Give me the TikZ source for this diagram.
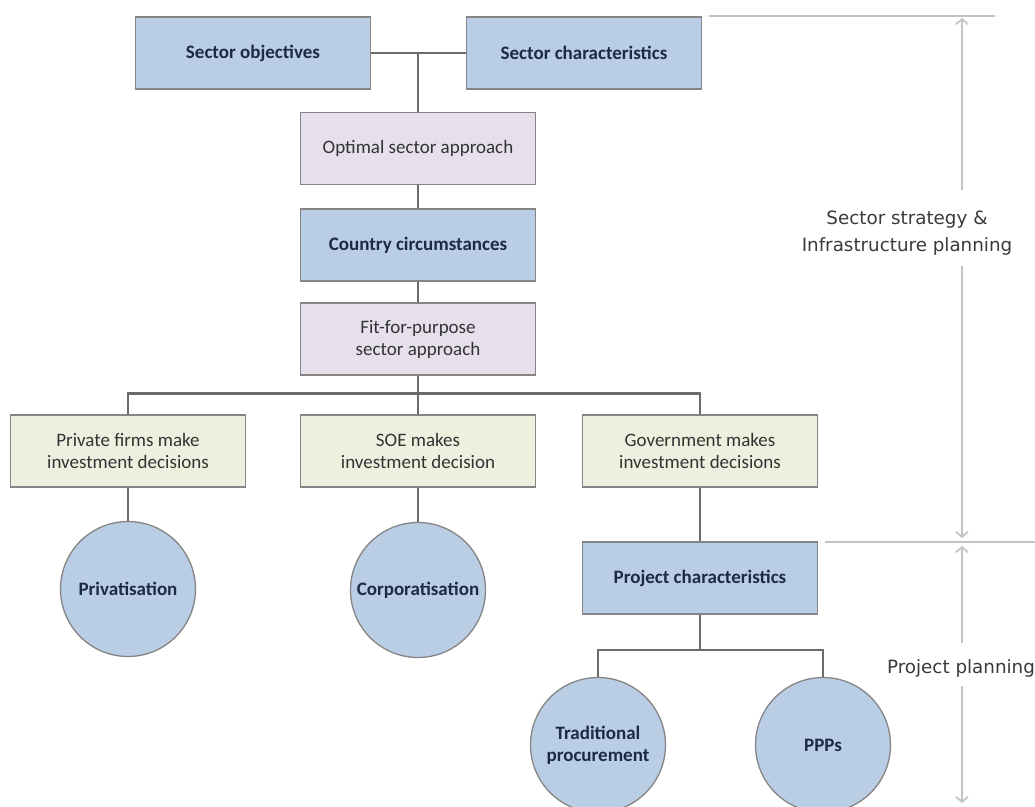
\documentclass[tikz,border=0pt]{standalone}
\usepackage{fontspec}
\setmainfont{Carlito}
\newfontfamily\annfont{DejaVu Sans}
\usetikzlibrary{arrows.meta}
\definecolor{boxblue}{HTML}{B9CDE5}
\definecolor{boxlilac}{HTML}{E5E0EC}
\definecolor{boxgreen}{HTML}{EBF1DE}
\definecolor{boxborder}{HTML}{858585}
\definecolor{navytext}{HTML}{1B2A47}
\definecolor{regtext}{HTML}{333333}
\definecolor{connline}{HTML}{6B6B6B}
\definecolor{annline}{HTML}{C4C4C4}
\definecolor{anntext}{HTML}{3A3A3A}
\tikzset{
  basebox/.style={draw=boxborder, line width=1.3pt, minimum width=235pt, minimum height=72pt, inner sep=0pt, align=center, font=\fontsize{19}{22}\selectfont},
  bluebox/.style={basebox, fill=boxblue, text=navytext, font=\fontsize{19}{22}\selectfont\bfseries},
  lilacbox/.style={basebox, fill=boxlilac, text=regtext},
  greenbox/.style={basebox, fill=boxgreen, text=regtext},
  bluecirc/.style={circle, draw=boxborder, line width=1.3pt, fill=boxblue, minimum size=135pt, inner sep=0pt, align=center, text=navytext, font=\fontsize{19}{22}\selectfont\bfseries},
  conn/.style={draw=connline, line width=2.6pt},
  annline/.style={draw=annline, line width=1.8pt},
  annarrow/.style={draw=annline, line width=1.8pt, -{Straight Barb[length=5pt,width=12pt,line width=1.8pt]}},
  anntext/.style={text=anntext, font=\annfont\fontsize{18.3}{27}\selectfont, align=center, inner sep=0pt}
}
\begin{document}
\begin{tikzpicture}[x=1pt,y=-1pt]
\useasboundingbox (0,0) rectangle (1035,806);
% boxes
\node[bluebox] (obj) at (253,53) {Sector objectives};
\node[bluebox] (char) at (584,53) {Sector characteristics};
\node[lilacbox] (opt) at (418,148.5) {Optimal sector approach};
\node[bluebox] (country) at (418,245) {Country circumstances};
\node[lilacbox] (fit) at (418,339) {Fit-for-purpose\\sector approach};
\node[greenbox] (priv) at (128,451) {Private firms make\\investment decisions};
\node[greenbox] (soe) at (418,451) {SOE makes\\investment decision};
\node[greenbox] (gov) at (700,451) {Government makes\\investment decisions};
\node[bluecirc] (privc) at (128,589) {Privatisation};
\node[bluecirc] (corpc) at (418,590) {Corporatisation};
\node[bluebox] (projc) at (700,578) {Project characteristics};
\node[bluecirc] (trad) at (598,745) {Traditional\\procurement};
\node[bluecirc] (ppp) at (823,745) {PPPs};
% connectors
\coordinate (j1) at (opt.north |- obj.east);
\draw[conn] (obj.east) -- (char.west);
\draw[conn] (j1) -- (opt.north);
\draw[conn] (opt.south) -- (country.north);
\draw[conn] (country.south) -- (fit.north);
\draw[conn] (fit.south) -- (soe.north);
\draw[conn] (priv.north) -- ++(0,-21) -| (gov.north);
\draw[conn] (priv.south) -- (privc.north);
\draw[conn] (soe.south) -- (corpc.north);
\draw[conn] (gov.south) -- (projc.north);
\coordinate (bus2) at (projc.south |- 0,650);
\draw[conn] (projc.south) -- (bus2);
\draw[conn] (trad.north) |- (bus2) -| (ppp.north);
% annotations
\coordinate (t1) at (709,16);
\coordinate (t2) at (995,16);
\draw[annline] (t1) -- (t2);
\coordinate (m1) at (825,542);
\coordinate (m2) at (1035,542);
\draw[annline] (m1) -- (m2);
\node[anntext] (lab1) at (907,233) {Sector strategy \&\\Infrastructure planning};
\node[anntext] (lab2) at (961,668) {Project planning};
\coordinate (a1t) at (962,18);
\coordinate (a1b) at (962,538);
\coordinate (a2t) at (962,546);
\coordinate (a2b) at (962,803);
\draw[annarrow] (962,190) -- (a1t);
\draw[annarrow] (962,266) -- (a1b);
\draw[annarrow] (962,643) -- (a2t);
\draw[annarrow] (962,686) -- (a2b);
\end{tikzpicture}
\end{document}
